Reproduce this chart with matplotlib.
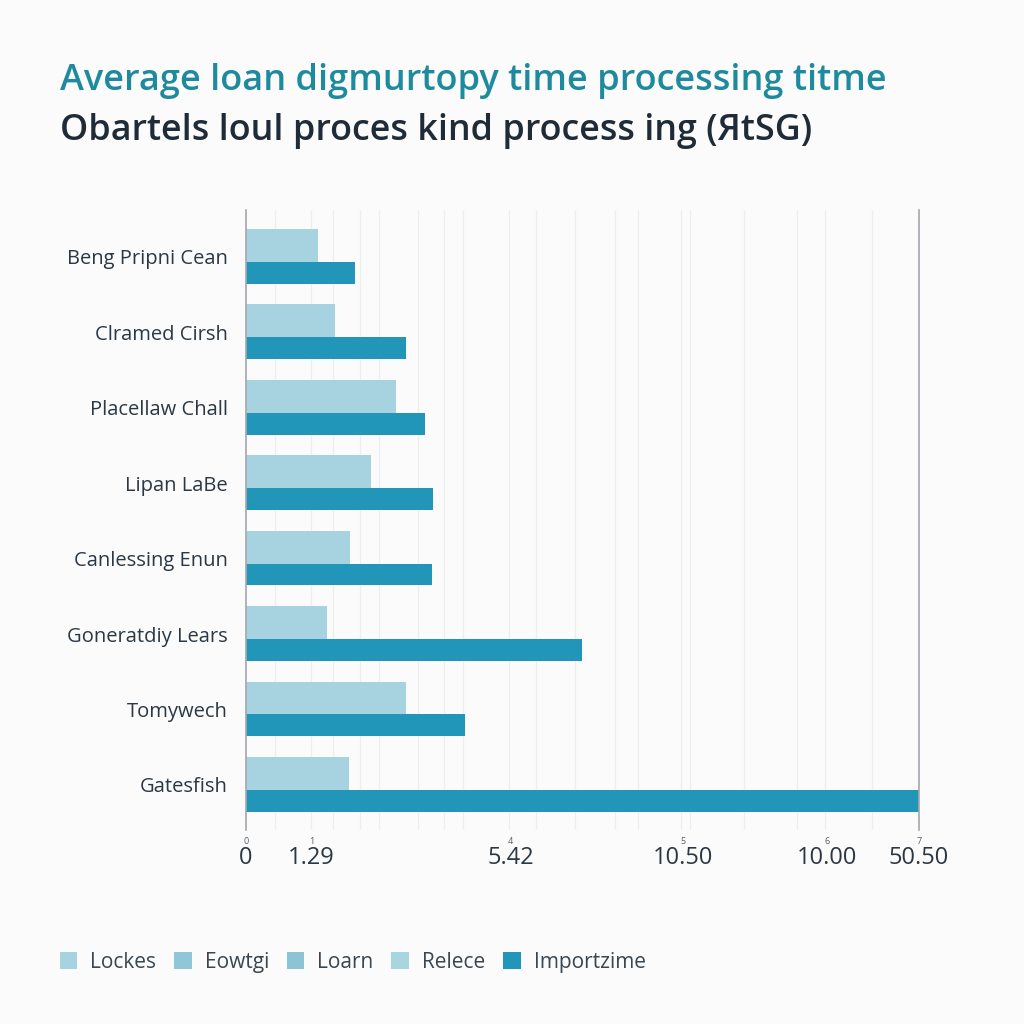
#!/usr/bin/env python3
# -*- coding: utf-8 -*-
"""
Grouped horizontal bar chart: average loan processing time.
"""
#------------------------------------------------------------------------------#
import matplotlib
matplotlib.use('Agg')
import matplotlib.pyplot as plt
import matplotlib.transforms as mtransforms
from matplotlib.patches import Patch
#------------------------------------------------------------------------------#
# DATA
categories = ['Beng Pripni Cean', 'Clramed Cirsh', 'Placellaw Chall', 'Lipan LaBe',
              'Canlessing Enun', 'Goneratdiy Lears', 'Tomywech', 'Gatesfish']
light_vals = [0.75, 0.93, 1.56, 1.30, 1.08, 0.84, 1.66, 1.07]
dark_vals = [1.13, 1.66, 1.86, 1.95, 1.93, 3.49, 2.28, 7.00]

tick_small = ['0', '1', '4', '5', '6', '7']
tick_big = ['0', '1.29', '5.42', '10.50', '10.00', '50.50']
legend_labels = ['Lockes', 'Eowtgi', 'Loarn', 'Relece', 'Importzime']

title = 'Average loan digmurtopy time processing titme'
subtitle = 'Obartels loul proces kind process ing (ЯtSG)'
#------------------------------------------------------------------------------#
# STYLE / LAYOUT
tick_pos = [0, 0.68, 2.75, 4.55, 6.04, 7.0]
grid_x = [0.30, 0.68, 0.90, 1.19, 1.38, 1.79, 2.06, 2.26, 2.74, 3.02, 3.42,
          3.84, 4.08, 4.52, 4.62, 5.18, 5.73, 6.02, 6.51]
LIGHT = '#a7d3e0'
DARK = '#2196b9'
legend_colors = ['#a7d3e0', '#8fc6d8', '#8cc4d6', '#a9d5e1', '#2196b9']
BG = '#fbfbfb'
TEXT = '#2b3844'
#------------------------------------------------------------------------------#
def plot_results():
    plt.rcParams['font.family'] = ['Open Sans', 'DejaVu Sans']

    fig = plt.figure(figsize=(10.24, 10.24), dpi=100, facecolor=BG)
    ax = fig.add_axes([0.2402, 0.1895, 0.6573, 0.6055], facecolor=BG)

    y = list(range(len(categories)))
    ax.barh([i - 0.152 for i in y], light_vals, height=0.4375, color=LIGHT,
            linewidth=0, zorder=2)
    ax.barh([i + 0.21 for i in y], dark_vals, height=0.29, color=DARK,
            linewidth=0, zorder=2)

    for gx in grid_x:
        ax.axvline(gx, color='#eceef0', lw=0.9, zorder=0)

    ax.set_xlim(0, 7)
    ax.set_ylim(7.596, -0.623)

    ax.set_yticks(y)
    ax.set_yticklabels(categories, fontsize=14.5, color=TEXT)
    ax.tick_params(axis='y', length=0, pad=13)

    ax.set_xticks(tick_pos)
    ax.set_xticklabels(tick_small, fontsize=6.5, color='#555f68')
    ax.tick_params(axis='x', length=0, pad=5)

    trans = mtransforms.blended_transform_factory(ax.transData, ax.transAxes)
    for xp, lab in zip(tick_pos, tick_big):
        ax.text(xp, -0.0455, lab, transform=trans, ha='center', va='center',
                fontsize=17, color=TEXT)

    for side in ['top', 'bottom']:
        ax.spines[side].set_visible(False)
    for side in ['left', 'right']:
        ax.spines[side].set_color('#a3a8ad')
        ax.spines[side].set_linewidth(1.2)
        ax.spines[side].set_zorder(3)

    fig.text(0.0586, 0.921, title, fontsize=26, color='#1e8a9e',
             fontweight='semibold', va='center', ha='left')
    fig.text(0.0586, 0.872, subtitle, fontsize=25.8, color='#1f2c38',
             fontweight='semibold', va='center', ha='left')

    handles = [Patch(facecolor=c, edgecolor='none') for c in legend_colors]
    fig.legend(handles, legend_labels, loc='center left',
               bbox_to_anchor=(0.04, 0.0605), ncol=5, frameon=False,
               fontsize=15, handlelength=0.85, handleheight=0.85,
               handletextpad=0.62, columnspacing=0.85, labelcolor='#3a4650')

    fig.savefig('out.png', dpi=100, facecolor=BG)
#------------------------------------------------------------------------------#
if __name__ == '__main__':
    plot_results()
